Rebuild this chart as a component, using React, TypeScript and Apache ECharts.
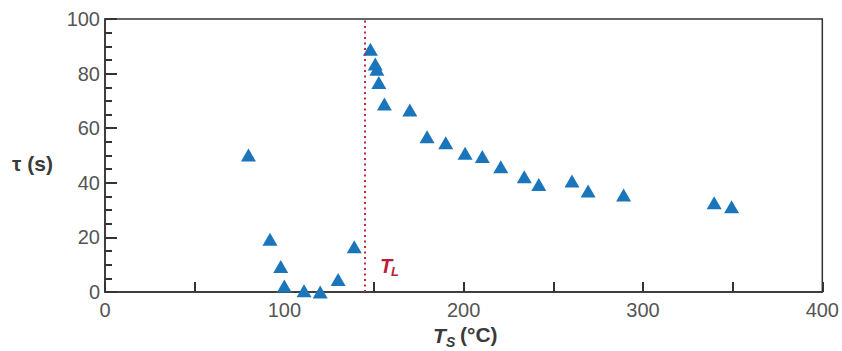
import React, { useEffect, useRef } from "react";
import * as echarts from "echarts";

const tsValues = [80, 92, 98, 100, 111, 120, 130, 139, 148, 150.7, 151.6, 152.7, 155.8, 170, 179.6, 190, 200.8, 210.4, 220.7, 233.8, 241.9, 260.4, 269.4, 289.2, 339.7, 349.4];
const tauValues = [50.2, 19.3, 9.3, 2.2, 0.5, 0, 4.6, 16.6, 88.9, 83.5, 81.6, 76.7, 68.9, 66.7, 56.9, 54.7, 50.8, 49.6, 45.9, 42.2, 39.4, 40.7, 37, 35.5, 32.7, 31.2];
const tlValue = 145;
const xTicks = { min: 0, max: 400, step: 50, labelStep: 100 };
const yTicks = { min: 0, max: 100, step: 20 };

export default function App() {
  const ref = useRef<HTMLDivElement>(null);
  useEffect(() => {
    document.body.style.margin = "0";
    if (!ref.current) return;
    const chart = echarts.init(ref.current, null, { renderer: "svg" });
    const labelStyle = { color: "#555555", fontSize: 20, fontFamily: "Liberation Sans" };
    const titleFont = { fontFamily: "Liberation Sans", fontWeight: "bold" as const, fill: "#3a3a3a" };
    chart.setOption({
      animation: false,
      grid: { left: 105, right: 14, top: 19, bottom: 59, show: true, borderColor: "#333", borderWidth: 1.5, backgroundColor: "transparent" },
      xAxis: {
        type: "value",
        min: xTicks.min,
        max: xTicks.max,
        interval: xTicks.step,
        axisLine: { lineStyle: { color: "#333", width: 1.5 } },
        axisTick: { inside: true, length: 10, lineStyle: { color: "#333", width: 2 } },
        axisLabel: {
          ...labelStyle,
          margin: 8,
          formatter: (v: number) => (v % xTicks.labelStep === 0 ? String(v) : ""),
        },
        splitLine: { show: false },
      },
      yAxis: {
        type: "value",
        min: yTicks.min,
        max: yTicks.max,
        interval: yTicks.step,
        axisLine: { show: true, lineStyle: { color: "#333", width: 1.5 } },
        axisTick: { show: true, inside: true, length: 12, lineStyle: { color: "#333", width: 2 } },
        minorTick: { show: true, splitNumber: 4, length: 7, lineStyle: { color: "#333", width: 2 } },
        axisLabel: { ...labelStyle, margin: 5 },
        splitLine: { show: false },
      },
      series: [
        {
          type: "scatter",
          symbol: "triangle",
          symbolSize: [15, 13],
          itemStyle: { color: "#1b75bb", opacity: 1 },
          data: tsValues.map((x, i) => [x, tauValues[i]]),
          markLine: {
            silent: true,
            symbol: "none",
            label: { show: false },
            lineStyle: { color: "#c0283c", type: [2, 3.5], width: 2 },
            data: [{ xAxis: tlValue }],
          },
        },
      ],
      graphic: [
        { type: "text", left: 12, top: 153, style: { ...titleFont, text: "τ (s)", fontSize: 21 } },
        { type: "text", left: 433, top: 325, style: { ...titleFont, text: "T", fontSize: 21, fontStyle: "italic" } },
        { type: "text", left: 446, top: 335, style: { ...titleFont, text: "S", fontSize: 14, fontStyle: "italic" } },
        { type: "text", left: 460, top: 324, style: { ...titleFont, text: "(°C)", fontSize: 21 } },
        { type: "text", left: 380, top: 256, style: { ...titleFont, text: "T", fontSize: 20, fontStyle: "italic", fill: "#b81e3a" } },
        { type: "text", left: 391, top: 265, style: { ...titleFont, text: "L", fontSize: 13, fontStyle: "italic", fill: "#b81e3a" } },
      ],
    });
    return () => chart.dispose();
  }, []);
  return <div ref={ref} style={{ width: 842, height: 351 }} />;
}
